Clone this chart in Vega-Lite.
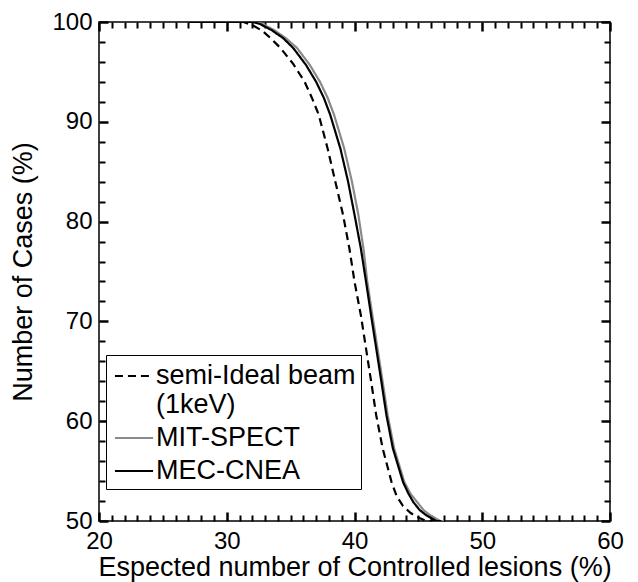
{
  "$schema": "https://vega.github.io/schema/vega-lite/v6.json",
  "width": 511,
  "height": 499,
  "autosize": {"type": "none"},
  "padding": {"left": 99, "top": 22, "right": 28, "bottom": 61},
  "background": "white",
  "config": {
    "font": "Liberation Sans",
    "view": {"stroke": "#000000", "strokeWidth": 1.5},
    "axis": {"grid": false, "domain": false, "labelColor": "#000000", "titleColor": "#000000", "labelFont": "Liberation Sans", "titleFont": "Liberation Sans", "titleFontWeight": "normal", "labelFontSize": 24, "titleFontSize": 27}
  },
  "data": {"values": [
    {"series": "semi-Ideal beam (1keV)", "x": 27, "y": 100},
    {"series": "semi-Ideal beam (1keV)", "x": 31.3, "y": 100},
    {"series": "semi-Ideal beam (1keV)", "x": 32.0, "y": 99.7},
    {"series": "semi-Ideal beam (1keV)", "x": 32.8, "y": 99.1},
    {"series": "semi-Ideal beam (1keV)", "x": 33.5, "y": 98.3},
    {"series": "semi-Ideal beam (1keV)", "x": 34.2, "y": 97.4},
    {"series": "semi-Ideal beam (1keV)", "x": 35.2, "y": 95.8},
    {"series": "semi-Ideal beam (1keV)", "x": 36.1, "y": 94.0},
    {"series": "semi-Ideal beam (1keV)", "x": 36.7, "y": 92.3},
    {"series": "semi-Ideal beam (1keV)", "x": 37.2, "y": 90.7},
    {"series": "semi-Ideal beam (1keV)", "x": 37.9, "y": 87.3},
    {"series": "semi-Ideal beam (1keV)", "x": 38.5, "y": 84.0},
    {"series": "semi-Ideal beam (1keV)", "x": 39.1, "y": 80.7},
    {"series": "semi-Ideal beam (1keV)", "x": 39.6, "y": 77.3},
    {"series": "semi-Ideal beam (1keV)", "x": 40.0, "y": 74.0},
    {"series": "semi-Ideal beam (1keV)", "x": 40.5, "y": 70.6},
    {"series": "semi-Ideal beam (1keV)", "x": 40.9, "y": 67.3},
    {"series": "semi-Ideal beam (1keV)", "x": 41.3, "y": 64.0},
    {"series": "semi-Ideal beam (1keV)", "x": 41.7, "y": 60.6},
    {"series": "semi-Ideal beam (1keV)", "x": 42.2, "y": 57.3},
    {"series": "semi-Ideal beam (1keV)", "x": 42.9, "y": 53.9},
    {"series": "semi-Ideal beam (1keV)", "x": 43.3, "y": 52.5},
    {"series": "semi-Ideal beam (1keV)", "x": 43.8, "y": 51.5},
    {"series": "semi-Ideal beam (1keV)", "x": 44.4, "y": 50.8},
    {"series": "semi-Ideal beam (1keV)", "x": 44.9, "y": 50.4},
    {"series": "semi-Ideal beam (1keV)", "x": 45.6, "y": 50.0},
    {"series": "semi-Ideal beam (1keV)", "x": 46.5, "y": 50.0},
    {"series": "MIT-SPECT", "x": 27, "y": 100},
    {"series": "MIT-SPECT", "x": 32.2, "y": 100},
    {"series": "MIT-SPECT", "x": 32.8, "y": 99.8},
    {"series": "MIT-SPECT", "x": 33.7, "y": 99.2},
    {"series": "MIT-SPECT", "x": 34.6, "y": 98.4},
    {"series": "MIT-SPECT", "x": 35.5, "y": 97.4},
    {"series": "MIT-SPECT", "x": 36.5, "y": 95.7},
    {"series": "MIT-SPECT", "x": 37.3, "y": 94.0},
    {"series": "MIT-SPECT", "x": 37.9, "y": 92.4},
    {"series": "MIT-SPECT", "x": 38.4, "y": 90.7},
    {"series": "MIT-SPECT", "x": 39.2, "y": 87.3},
    {"series": "MIT-SPECT", "x": 39.8, "y": 84.0},
    {"series": "MIT-SPECT", "x": 40.3, "y": 80.7},
    {"series": "MIT-SPECT", "x": 40.7, "y": 77.3},
    {"series": "MIT-SPECT", "x": 41.0, "y": 74.0},
    {"series": "MIT-SPECT", "x": 41.4, "y": 70.6},
    {"series": "MIT-SPECT", "x": 41.8, "y": 67.3},
    {"series": "MIT-SPECT", "x": 42.2, "y": 64.0},
    {"series": "MIT-SPECT", "x": 42.6, "y": 60.6},
    {"series": "MIT-SPECT", "x": 43.1, "y": 57.3},
    {"series": "MIT-SPECT", "x": 43.9, "y": 53.9},
    {"series": "MIT-SPECT", "x": 44.4, "y": 52.7},
    {"series": "MIT-SPECT", "x": 44.9, "y": 51.9},
    {"series": "MIT-SPECT", "x": 45.4, "y": 51.1},
    {"series": "MIT-SPECT", "x": 45.9, "y": 50.6},
    {"series": "MIT-SPECT", "x": 46.7, "y": 50.0},
    {"series": "MIT-SPECT", "x": 47.0, "y": 50.0},
    {"series": "MEC-CNEA", "x": 27, "y": 100},
    {"series": "MEC-CNEA", "x": 32.0, "y": 100},
    {"series": "MEC-CNEA", "x": 32.6, "y": 99.8},
    {"series": "MEC-CNEA", "x": 33.5, "y": 99.2},
    {"series": "MEC-CNEA", "x": 34.4, "y": 98.4},
    {"series": "MEC-CNEA", "x": 35.2, "y": 97.4},
    {"series": "MEC-CNEA", "x": 36.2, "y": 95.7},
    {"series": "MEC-CNEA", "x": 37.0, "y": 94.0},
    {"series": "MEC-CNEA", "x": 37.6, "y": 92.4},
    {"series": "MEC-CNEA", "x": 38.1, "y": 90.7},
    {"series": "MEC-CNEA", "x": 38.9, "y": 87.3},
    {"series": "MEC-CNEA", "x": 39.5, "y": 84.0},
    {"series": "MEC-CNEA", "x": 40.0, "y": 80.7},
    {"series": "MEC-CNEA", "x": 40.5, "y": 77.3},
    {"series": "MEC-CNEA", "x": 40.9, "y": 74.0},
    {"series": "MEC-CNEA", "x": 41.3, "y": 70.6},
    {"series": "MEC-CNEA", "x": 41.7, "y": 67.3},
    {"series": "MEC-CNEA", "x": 42.1, "y": 64.0},
    {"series": "MEC-CNEA", "x": 42.5, "y": 60.6},
    {"series": "MEC-CNEA", "x": 43.0, "y": 57.3},
    {"series": "MEC-CNEA", "x": 43.8, "y": 53.9},
    {"series": "MEC-CNEA", "x": 44.2, "y": 52.8},
    {"series": "MEC-CNEA", "x": 44.6, "y": 51.9},
    {"series": "MEC-CNEA", "x": 45.1, "y": 51.1},
    {"series": "MEC-CNEA", "x": 45.6, "y": 50.6},
    {"series": "MEC-CNEA", "x": 46.4, "y": 50.0},
    {"series": "MEC-CNEA", "x": 46.8, "y": 50.0}
  ]},
  "resolve": {"axis": {"x": "independent", "y": "independent"}},
  "layer": [
    {
      "mark": {"type": "line", "strokeWidth": 2.2, "clip": true},
      "encoding": {
        "x": {"field": "x", "type": "quantitative", "scale": {"domain": [20, 60], "nice": false, "zero": false},
          "axis": {"orient": "bottom", "title": "Espected number of Controlled lesions (%)", "values": [20, 30, 40, 50, 60], "ticks": false, "labelPadding": 8, "titlePadding": 1, "labelFlush": false, "labelOverlap": false}},
        "y": {"field": "y", "type": "quantitative", "scale": {"domain": [50, 100], "nice": false, "zero": false},
          "axis": {"orient": "left", "title": "Number of Cases (%)", "values": [50, 60, 70, 80, 90, 100], "ticks": false, "labelPadding": 7, "titlePadding": 14, "labelFlush": false, "labelOverlap": false}},
        "color": {"field": "series", "type": "nominal",
          "scale": {"domain": ["semi-Ideal beam (1keV)", "MIT-SPECT", "MEC-CNEA"], "range": ["#000000", "#8a8a8a", "#000000"]},
          "legend": {"title": null, "orient": "none", "legendX": 7, "legendY": 333, "strokeColor": "#000000", "fillColor": "white", "padding": 5, "symbolOffset": 7,
            "symbolType": "M-1.27,0L1.27,0", "symbolSize": 900, "symbolStrokeWidth": 2, "labelFontSize": 27, "labelColor": "#000000", "labelOffset": 6, "labelLimit": 400, "labelLineHeight": 27, "rowPadding": 4,
            "labelExpr": "datum.label === 'semi-Ideal beam (1keV)' ? ['semi-Ideal beam', ' (1keV)'] : datum.label"}},
        "strokeDash": {"field": "series", "type": "nominal",
          "scale": {"domain": ["semi-Ideal beam (1keV)", "MIT-SPECT", "MEC-CNEA"], "range": [[8, 5], [1, 0], [1, 0]]},
          "legend": {"title": null, "orient": "none", "legendX": 7, "legendY": 333, "strokeColor": "#000000", "fillColor": "white", "padding": 5, "symbolOffset": 7,
            "symbolType": "M-1.27,0L1.27,0", "symbolSize": 900, "symbolStrokeWidth": 2, "labelFontSize": 27, "labelColor": "#000000", "labelOffset": 6, "labelLimit": 400, "labelLineHeight": 27, "rowPadding": 4,
            "labelExpr": "datum.label === 'semi-Ideal beam (1keV)' ? ['semi-Ideal beam', ' (1keV)'] : datum.label"}}
      }
    },
    {
      "mark": {"type": "line", "opacity": 0},
      "encoding": {
        "x": {"field": "x", "type": "quantitative",
          "axis": {"orient": "top", "offset": -499, "title": null, "labels": false, "values": [20, 30, 40, 50, 60], "ticks": true, "tickColor": "#000000", "tickWidth": 2.5, "tickSize": 9}},
        "y": {"field": "y", "type": "quantitative",
          "axis": {"orient": "right", "offset": -511, "title": null, "labels": false, "values": [50, 60, 70, 80, 90, 100], "ticks": true, "tickColor": "#000000", "tickWidth": 2.5, "tickSize": 9}},
        "detail": {"field": "series", "type": "nominal"}
      }
    },
    {
      "mark": {"type": "line", "opacity": 0},
      "encoding": {
        "x": {"field": "x", "type": "quantitative",
          "axis": {"orient": "top", "offset": -499, "title": null, "labels": false, "values": [21,22,23,24,25,26,27,28,29,31,32,33,34,35,36,37,38,39,41,42,43,44,45,46,47,48,49,51,52,53,54,55,56,57,58,59], "ticks": true, "tickColor": "#000000", "tickWidth": 2, "tickSize": 6}},
        "y": {"field": "y", "type": "quantitative",
          "axis": {"orient": "right", "offset": -511, "title": null, "labels": false, "values": [52,54,56,58,62,64,66,68,72,74,76,78,82,84,86,88,92,94,96,98], "ticks": true, "tickColor": "#000000", "tickWidth": 2, "tickSize": 6}},
        "detail": {"field": "series", "type": "nominal"}
      }
    },
    {
      "mark": {"type": "line", "opacity": 0},
      "encoding": {
        "x": {"field": "x", "type": "quantitative",
          "axis": {"orient": "bottom", "offset": -499, "title": null, "labels": false, "values": [20, 30, 40, 50, 60], "ticks": true, "tickColor": "#000000", "tickWidth": 2.5, "tickSize": 9}},
        "y": {"field": "y", "type": "quantitative",
          "axis": {"orient": "left", "offset": -511, "title": null, "labels": false, "values": [50, 60, 70, 80, 90, 100], "ticks": true, "tickColor": "#000000", "tickWidth": 2.5, "tickSize": 9}},
        "detail": {"field": "series", "type": "nominal"}
      }
    },
    {
      "mark": {"type": "line", "opacity": 0},
      "encoding": {
        "x": {"field": "x", "type": "quantitative",
          "axis": {"orient": "bottom", "offset": -499, "title": null, "labels": false, "values": [21,22,23,24,25,26,27,28,29,31,32,33,34,35,36,37,38,39,41,42,43,44,45,46,47,48,49,51,52,53,54,55,56,57,58,59], "ticks": true, "tickColor": "#000000", "tickWidth": 2, "tickSize": 6}},
        "y": {"field": "y", "type": "quantitative",
          "axis": {"orient": "left", "offset": -511, "title": null, "labels": false, "values": [52,54,56,58,62,64,66,68,72,74,76,78,82,84,86,88,92,94,96,98], "ticks": true, "tickColor": "#000000", "tickWidth": 2, "tickSize": 6}},
        "detail": {"field": "series", "type": "nominal"}
      }
    }
  ]
}
